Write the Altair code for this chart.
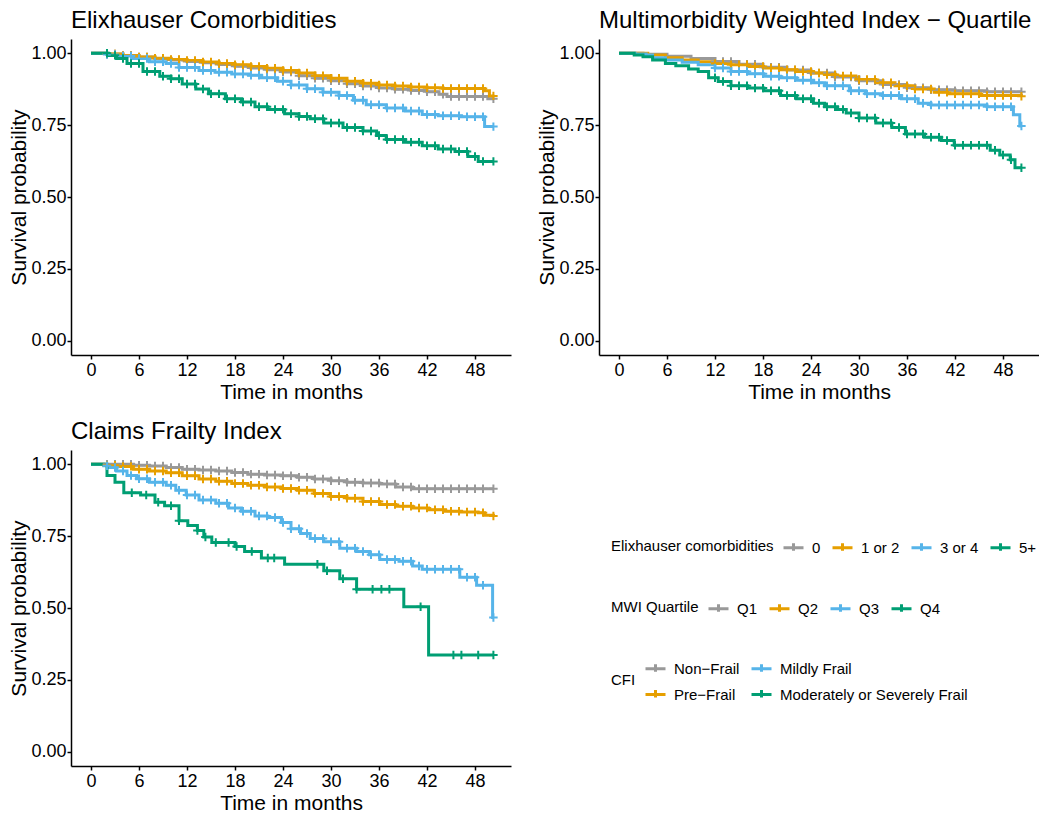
import altair as alt
import pandas as pd

# ---------------- text ----------------
PANEL_TITLES = ["Elixhauser Comorbidities",
                "Multimorbidity Weighted Index − Quartile",
                "Claims Frailty Index"]
X_TITLE = "Time in months"
Y_TITLE = "Survival probability"
X_TICKS = [0, 6, 12, 18, 24, 30, 36, 42, 48]
Y_TICKS = [0.0, 0.25, 0.5, 0.75, 1.0]

COLORS = ["#999999", "#E69F00", "#56B4E9", "#009E73"]

ELIX_GROUPS = ["0", "1 or 2", "3 or 4", "5+"]
MWI_GROUPS = ["Q1", "Q2", "Q3", "Q4"]
CFI_GROUPS = ["Non−Frail", "Pre−Frail", "Mildly Frail", "Moderately or Severely Frail"]
# legend order for the two-column CFI legend (row-major)
CFI_LEGEND_ORDER = ["Non−Frail", "Mildly Frail", "Pre−Frail", "Moderately or Severely Frail"]
CFI_LEGEND_COLORS = ["#999999", "#56B4E9", "#E69F00", "#009E73"]

# ---------------- Elixhauser ----------------
ELIX_0_T = [0, 2, 4, 6, 8, 10, 12, 14, 16, 18, 20, 22, 24, 26, 28, 30, 32, 34, 36, 38, 40, 42, 43.5, 44.5, 49.6, 50.3]
ELIX_0_S = [1.0, 0.998, 0.993, 0.987, 0.982, 0.977, 0.972, 0.967, 0.961, 0.955, 0.949, 0.943, 0.935, 0.922, 0.913, 0.905, 0.894, 0.886, 0.879, 0.875, 0.871, 0.866, 0.858, 0.85, 0.842, 0.842]
ELIX_12_T = [0, 2, 4, 6, 8, 10, 12, 14, 16, 18, 20, 22, 24, 26, 28, 30, 32, 34, 36, 38, 40, 42, 44, 49.2, 49.8, 50.3]
ELIX_12_S = [1.0, 0.998, 0.993, 0.987, 0.983, 0.979, 0.975, 0.97, 0.965, 0.96, 0.954, 0.948, 0.94, 0.932, 0.922, 0.913, 0.903, 0.896, 0.89, 0.886, 0.883, 0.88, 0.878, 0.87, 0.852, 0.852]
ELIX_34_T = [0, 2, 3.2, 5.3, 7.3, 9.4, 11, 13.5, 15.5, 17.6, 19.7, 21.3, 23.3, 25, 27, 29, 31, 32.8, 34.4, 36.9, 39.3, 41.4, 43.4, 46.3, 49.2, 50.3]
ELIX_34_S = [1.0, 0.996, 0.991, 0.982, 0.971, 0.965, 0.951, 0.94, 0.934, 0.928, 0.924, 0.915, 0.903, 0.89, 0.877, 0.865, 0.853, 0.837, 0.821, 0.81, 0.799, 0.787, 0.783, 0.779, 0.745, 0.745]
ELIX_5_T = [0, 2.2, 3.2, 4.5, 6.5, 8.6, 10, 11.4, 13.1, 14.7, 16.8, 18.8, 20.5, 22.1, 24.2, 26, 27.4, 29.1, 31.5, 34, 35.7, 36.9, 39.3, 41.4, 43.4, 45.5, 47.1, 48.4, 50.3]
ELIX_5_S = [1.0, 0.993, 0.982, 0.965, 0.937, 0.92, 0.912, 0.893, 0.876, 0.859, 0.842, 0.831, 0.814, 0.805, 0.79, 0.78, 0.772, 0.758, 0.742, 0.73, 0.714, 0.70, 0.691, 0.678, 0.667, 0.658, 0.641, 0.624, 0.624]
ELIX_CENSOR = [2, 3, 4, 5, 6, 7, 8, 9, 10, 11, 12, 13, 14, 15, 16, 17, 18, 19, 20, 21, 22, 23, 24, 25, 26, 27, 28, 29, 30, 31, 32, 33, 34, 35, 36, 37, 38, 39, 40, 41, 42, 43, 44, 45, 46, 47, 48, 49, 50.3]

# ---------------- MWI quartile ----------------
MWI_Q1_T = [0, 3, 6, 9, 12, 15, 18, 21, 24, 27, 30, 33, 36, 39, 42, 46, 50.3]
MWI_Q1_S = [1.0, 0.997, 0.99, 0.982, 0.972, 0.962, 0.952, 0.942, 0.932, 0.918, 0.905, 0.892, 0.88, 0.873, 0.87, 0.866, 0.866]
MWI_Q2_T = [0, 3.6, 5.8, 7.9, 9.9, 12, 14, 16.1, 18.1, 20.2, 22.2, 24.3, 25.7, 27.1, 29.6, 32.1, 34.5, 37, 39.4, 41.1, 45.2, 50.3]
MWI_Q2_S = [1.0, 0.994, 0.985, 0.977, 0.971, 0.965, 0.96, 0.954, 0.949, 0.943, 0.937, 0.932, 0.926, 0.921, 0.909, 0.898, 0.887, 0.876, 0.865, 0.859, 0.853, 0.851]
MWI_Q3_T = [0, 2, 3.4, 4.2, 5.8, 7.9, 9.9, 12, 14, 16.1, 18.1, 20.2, 22.2, 24.3, 25.7, 28.8, 30.8, 32.9, 35.3, 37.4, 39, 46, 49.3, 50.1, 50.3]
MWI_Q3_S = [1.0, 0.998, 0.994, 0.985, 0.977, 0.969, 0.96, 0.949, 0.937, 0.929, 0.92, 0.915, 0.906, 0.898, 0.887, 0.87, 0.859, 0.853, 0.842, 0.826, 0.82, 0.814, 0.786, 0.747, 0.747]
MWI_Q4_T = [0, 1.9, 3, 4.2, 5.8, 7.1, 8.7, 9.9, 11.2, 12.4, 14, 16.1, 18.1, 20.2, 22.2, 24.3, 25.7, 27.3, 28.4, 30, 32.1, 34.1, 35.8, 38.2, 40.3, 41.9, 46.4, 47.6, 48.9, 49.5, 50.3]
MWI_Q4_S = [1.0, 0.994, 0.988, 0.977, 0.965, 0.957, 0.946, 0.937, 0.915, 0.902, 0.887, 0.879, 0.87, 0.853, 0.842, 0.826, 0.814, 0.805, 0.792, 0.775, 0.758, 0.742, 0.719, 0.708, 0.697, 0.68, 0.663, 0.646, 0.63, 0.602, 0.602]
MWI_CENSOR = [12, 13, 14, 15, 16, 17, 18, 19, 20, 21, 22, 23, 24, 25, 26, 27, 28, 29, 30, 31, 32, 33, 34, 35, 36, 37, 38, 39, 40, 41, 42, 43, 44, 45, 46, 47, 48, 49, 50.3]

# ---------------- Claims Frailty Index ----------------
CFI_NF_T = [0, 5.3, 7.3, 9.4, 11.4, 13.5, 15.6, 17.6, 19.6, 21.7, 23.8, 25.8, 27.9, 30, 32, 34, 36.1, 38.1, 40.2, 50.3]
CFI_NF_S = [1.0, 0.997, 0.994, 0.989, 0.983, 0.98, 0.977, 0.972, 0.966, 0.963, 0.96, 0.955, 0.949, 0.943, 0.938, 0.935, 0.932, 0.921, 0.915, 0.915]
CFI_PF_T = [0, 1.6, 3.2, 5.3, 7.3, 9.4, 11.4, 13.5, 15.6, 17.6, 19.6, 21.7, 23.8, 25.8, 27.9, 29.9, 32, 34, 36.1, 38.1, 40.2, 42.2, 44.3, 46.3, 48.4, 49.2, 50.3]
CFI_PF_S = [1.0, 0.997, 0.993, 0.983, 0.977, 0.971, 0.96, 0.949, 0.941, 0.933, 0.927, 0.921, 0.916, 0.91, 0.899, 0.888, 0.882, 0.871, 0.86, 0.854, 0.848, 0.842, 0.837, 0.834, 0.832, 0.823, 0.82]
CFI_MF_T = [0, 1.6, 2.2, 3.2, 4.5, 5.7, 7.3, 9.4, 10.6, 11.9, 13.5, 15.6, 17.2, 18.8, 20.5, 22.1, 23.8, 25, 26.2, 27.4, 29.1, 31.1, 33.2, 34.8, 36.1, 38.5, 40.2, 41.4, 46.1, 48.2, 50.2, 50.3]
CFI_MF_S = [1.0, 0.995, 0.989, 0.977, 0.961, 0.95, 0.938, 0.927, 0.91, 0.893, 0.876, 0.865, 0.848, 0.837, 0.82, 0.815, 0.798, 0.776, 0.759, 0.742, 0.731, 0.708, 0.697, 0.685, 0.669, 0.663, 0.646, 0.635, 0.607, 0.579, 0.467, 0.467]
CFI_SF_T = [0, 2, 3, 4.1, 6.2, 8, 9.2, 11, 12.1, 13.3, 14.1, 15.1, 18, 19.2, 21.3, 24.2, 29.1, 31.1, 33.2, 39.1, 42.2, 50.3]
CFI_SF_S = [1.0, 0.961, 0.938, 0.901, 0.893, 0.868, 0.856, 0.804, 0.787, 0.77, 0.747, 0.728, 0.714, 0.697, 0.674, 0.652, 0.63, 0.602, 0.565, 0.504, 0.336, 0.336]
CFI_CENSOR = [2, 3, 4, 5, 6, 7, 8, 9, 10, 11, 12, 13, 14, 15, 16, 17, 18, 19, 20, 21, 22, 23, 24, 25, 26, 27, 28, 29, 30, 31, 32, 33, 34, 35, 36, 37, 38, 39, 40, 41, 42, 43, 44, 45, 46, 47, 48, 49, 50.3]
CFI_SF_CENSOR = [5.1, 6.9, 8.4, 10.0, 11.0, 13.3, 14.3, 15.6, 17.2, 18.2, 20.1, 22.1, 22.9, 28.3, 29.5, 31.5, 33.2, 35.2, 36.3, 37.3, 41.2, 45.3, 46.3, 48.4, 50.3]

# ---------------- layout constants ----------------
W, H = 440, 316
HGAP, VGAP = 88, 95
X0, Y0 = 71, 40  # expected absolute origin of first plot (for legend placement)
FONT = "Liberation Sans"
CROSS = "M-1,0L1,0M0,-1L0,1"
LEG_SYMBOL = "M-1,0L1,0M0,-0.45L0,0.3"


def step_value(T, S, c):
    v = S[0]
    for t, s in zip(T, S):
        if t <= c:
            v = s
    return v


def frames(series):
    lines, cens = [], []
    for order, (grp, T, S, C) in enumerate(series):
        for t, s in zip(T, S):
            lines.append({"group": grp, "ord": order, "t": t, "s": s})
        for c in C:
            cens.append({"group": grp, "ord": order, "t": c, "s": step_value(T, S, c)})
    return pd.DataFrame(lines), pd.DataFrame(cens)


def panel(series, title, dom, rng, legend):
    ldf, cdf = frames(series)
    x = alt.X("t:Q", scale=alt.Scale(domain=[-2.5, 52.5], nice=False, zero=False),
              axis=alt.Axis(values=X_TICKS, title=X_TITLE, format="d"))
    y = alt.Y("s:Q", scale=alt.Scale(domain=[-0.05, 1.05], nice=False, zero=False),
              axis=alt.Axis(values=Y_TICKS, title=Y_TITLE, format=".2f"))
    scale = alt.Scale(domain=dom, range=rng)
    lines = alt.Chart(ldf).mark_line(interpolate="step-after", strokeWidth=3).encode(
        x=x, y=y,
        color=alt.Color("group:N", scale=scale, legend=legend),
        order="t:Q",
    )
    crosses = alt.Chart(cdf).mark_point(shape=CROSS, filled=False, size=72, strokeWidth=2, opacity=1).encode(
        x=x, y=y,
        color=alt.Color("group:N", scale=scale, legend=None),
    )
    return alt.layer(lines, crosses).properties(
        width=W, height=H,
        title=alt.TitleParams(title, anchor="start", frame="group", fontSize=24,
                              fontWeight="normal", color="black", offset=6),
    )


def leg(title, x, y, columns=None):
    kw = dict(title=title, orient="none", legendX=x, legendY=y, direction="horizontal",
              titleOrient="left", symbolType=LEG_SYMBOL, symbolSize=400, symbolStrokeWidth=3,
              labelFontSize=15, titleFontSize=15, titleFontWeight="normal",
              labelColor="black", titleColor="black", labelOffset=7, columnPadding=5,
              titlePadding=8, padding=0, rowPadding=5, symbolOpacity=1,
              labelLimit=400, titleLimit=400)
    if columns:
        kw["columns"] = columns
    return alt.Legend(**kw)


P2X = X0 + W + HGAP
P3Y = Y0 + H + VGAP

p1 = panel([(g, T, S, ELIX_CENSOR) for g, T, S in zip(ELIX_GROUPS,
            [ELIX_0_T, ELIX_12_T, ELIX_34_T, ELIX_5_T], [ELIX_0_S, ELIX_12_S, ELIX_34_S, ELIX_5_S])],
           PANEL_TITLES[0], ELIX_GROUPS, COLORS,
           leg("Elixhauser comorbidities", 611 - X0, 537 - Y0))
p2 = panel([(g, T, S, MWI_CENSOR) for g, T, S in zip(MWI_GROUPS,
            [MWI_Q1_T, MWI_Q2_T, MWI_Q3_T, MWI_Q4_T], [MWI_Q1_S, MWI_Q2_S, MWI_Q3_S, MWI_Q4_S])],
           PANEL_TITLES[1], MWI_GROUPS, COLORS,
           leg("MWI Quartile", 611 - P2X, 598 - Y0))
p3 = panel([(g, T, S, C) for g, T, S, C in zip(CFI_GROUPS,
            [CFI_NF_T, CFI_PF_T, CFI_MF_T, CFI_SF_T], [CFI_NF_S, CFI_PF_S, CFI_MF_S, CFI_SF_S],
            [CFI_CENSOR, CFI_CENSOR, CFI_CENSOR, CFI_SF_CENSOR])],
           PANEL_TITLES[2], CFI_LEGEND_ORDER, CFI_LEGEND_COLORS,
           leg("CFI", 611 - X0, 658 - P3Y, columns=2))

chart = alt.concat(
    p1, p2, p3, columns=2,
    spacing={"row": VGAP, "column": HGAP}, bounds="flush",
).resolve_scale(color="independent", x="independent", y="independent").properties(
    padding={"top": 1, "left": 0, "right": 0, "bottom": 0}
).configure(font=FONT).configure_view(stroke=None).configure_axis(
    grid=False, domainColor="black", domainWidth=1.5, tickColor="black", tickWidth=1.5,
    tickSize=4, labelFontSize=18, labelColor="black", labelPadding=2,
    titleFontSize=21, titleFontWeight="normal", titleColor="black", titlePadding=3,
).configure_axisX(titlePadding=2).configure_axisY(labelPadding=1, titlePadding=1)

chart.save("out.html", embed_options={"renderer": "svg", "actions": False})
